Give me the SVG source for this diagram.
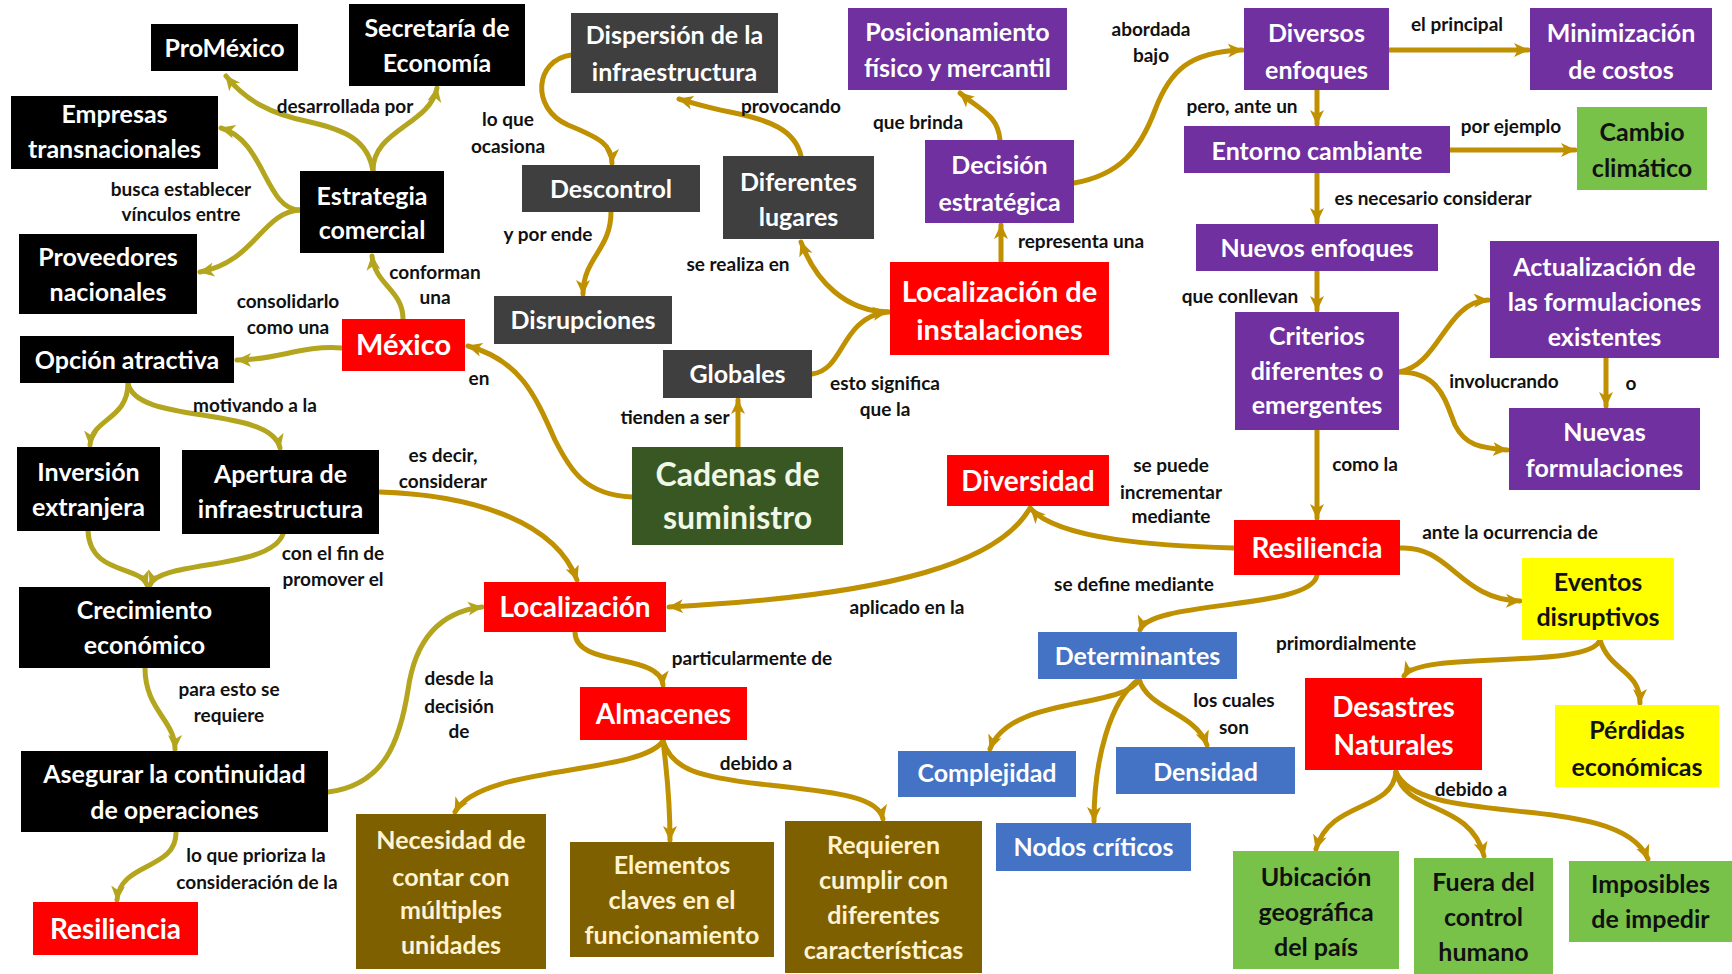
<svg xmlns="http://www.w3.org/2000/svg" width="1732" height="974" viewBox="0 0 1732 974">
<style>
.n text{font-family:Lato,"Open Sans","Liberation Sans",sans-serif;font-weight:700;font-size:25px;text-anchor:middle;fill:#fff}
.n.big text{font-size:28px}
.n.dk text{fill:#111}
.n.ol text{fill:#FFF3D0}
.k{fill:#000}.r{fill:#FF0000}.g{fill:#3F3F3F}.p{fill:#7030A0}.b{fill:#4472C4}.y{fill:#FFFF00}.lg{fill:#79C24A}.o{fill:#7F6000}.dg{fill:#385723}
.lbl{font-family:Lato,"Open Sans","Liberation Sans",sans-serif;font-weight:700;font-size:19px;text-anchor:middle;fill:#111}
.c{fill:none;stroke:#BF9000;stroke-width:5;stroke-linecap:round;marker-end:url(#ah)}
.c.v{stroke:#B3A51E;marker-end:url(#ah2)}
</style>
<defs>
<marker id="ah" viewBox="0 0 16 16" markerUnits="userSpaceOnUse" markerWidth="16" markerHeight="16" refX="14" refY="8" orient="auto"><path d="M0,1 L15,8 L0,15 L4,8 z" fill="#BF9000"/></marker>
<marker id="ah2" viewBox="0 0 16 16" markerUnits="userSpaceOnUse" markerWidth="16" markerHeight="16" refX="14" refY="8" orient="auto"><path d="M0,1 L15,8 L0,15 L4,8 z" fill="#B3A51E"/></marker>
</defs>
<rect width="1732" height="974" fill="#fff"/>

<g id="connectors">
<path class="c v" d="M373,171 C368,140 345,130 310,122 C270,114 245,100 226,76"/>
<path class="c v" d="M373,171 C372,130 430,125 437,88"/>
<path class="c v" d="M300,210 C265,210 265,140 221,128"/>
<path class="c v" d="M300,210 C262,212 255,262 200,272"/>
<path class="c v" d="M403,319 C403,290 375,285 372,256"/>
<path class="c v" d="M342,348 C300,345 280,360 237,360"/>
<path class="c" d="M632,497 C585,495 570,470 555,440 C535,395 520,360 468,346"/>
<path class="c" d="M738,447 L738,400"/>
<path class="c" d="M812,374 C845,370 840,318 887,312"/>
<path class="c" d="M890,312 C845,312 815,280 801,242"/>
<path class="c" d="M801,156 C795,130 770,120 730,112 C705,107 690,102 679,99"/>
<path class="c" d="M571,55 C535,60 530,108 568,125 C600,138 612,145 612,163"/>
<path class="c" d="M611,212 C611,250 583,258 583,294"/>
<path class="c" d="M1001,262 L1001,225"/>
<path class="c" d="M1000,140 C998,115 980,110 960,93"/>
<path class="c" d="M1074,183 C1120,175 1140,150 1155,110 C1170,70 1190,52 1242,50"/>
<path class="c" d="M1389,50 L1528,50"/>
<path class="c" d="M1317,90 L1317,124"/>
<path class="c" d="M1450,150 L1575,150"/>
<path class="c" d="M1317,173 L1317,222"/>
<path class="c" d="M1317,271 L1317,310"/>
<path class="c" d="M1399,372 C1440,365 1445,302 1488,300"/>
<path class="c" d="M1399,372 C1440,372 1445,400 1455,425 C1465,445 1480,448 1507,450"/>
<path class="c" d="M1606,358 L1606,406"/>
<path class="c" d="M1317,430 L1317,518"/>
<path class="c" d="M1234,548 C1160,546 1060,540 1031,509"/>
<path class="c" d="M1030,508 C1000,560 900,595 669,607"/>
<path class="c" d="M380,492 C470,495 555,520 577,580"/>
<path class="c v" d="M328,792 C385,785 400,740 408,690 C415,640 440,612 482,607"/>
<path class="c" d="M575,632 C575,668 660,652 663,685"/>
<path class="c" d="M663,741 C640,775 480,765 455,812"/>
<path class="c" d="M663,741 C668,780 670,810 670,840"/>
<path class="c" d="M663,741 C672,770 700,777 760,784 C830,792 878,795 883,819"/>
<path class="c" d="M1317,575 C1312,610 1150,600 1140,630"/>
<path class="c" d="M1139,679 C1125,710 1010,695 990,749"/>
<path class="c" d="M1139,679 C1148,710 1195,712 1207,745"/>
<path class="c" d="M1139,679 C1110,700 1094,760 1094,821"/>
<path class="c" d="M1400,548 C1450,545 1460,600 1520,601"/>
<path class="c" d="M1600,640 C1590,670 1420,650 1404,676"/>
<path class="c" d="M1600,640 C1610,672 1640,670 1640,703"/>
<path class="c" d="M1396,772 C1392,812 1330,800 1316,849"/>
<path class="c" d="M1396,772 C1405,815 1470,800 1484,856"/>
<path class="c" d="M1396,772 C1420,830 1620,790 1648,859"/>
<path class="c v" d="M128,383 C128,420 92,418 90,445"/>
<path class="c v" d="M128,383 C135,425 270,405 280,448"/>
<path class="c v" d="M88,531 C90,575 140,565 147,585"/>
<path class="c v" d="M283,534 C270,570 160,560 150,585"/>
<path class="c v" d="M145,668 C145,710 175,720 175,749"/>
<path class="c v" d="M176,833 C176,870 120,862 117,900"/>
</g>

<g id="labels">
<text class="lbl" x="345" y="113">desarrollada por</text>
<text class="lbl" x="181" y="196">busca establecer</text>
<text class="lbl" x="181" y="221">vínculos entre</text>
<text class="lbl" x="435" y="279">conforman</text>
<text class="lbl" x="435" y="304">una</text>
<text class="lbl" x="288" y="308">consolidarlo</text>
<text class="lbl" x="288" y="334">como una</text>
<text class="lbl" x="479" y="385">en</text>
<text class="lbl" x="508" y="126">lo que</text>
<text class="lbl" x="508" y="153">ocasiona</text>
<text class="lbl" x="548" y="241">y por ende</text>
<text class="lbl" x="791" y="113">provocando</text>
<text class="lbl" x="918" y="129">que brinda</text>
<text class="lbl" x="738" y="271">se realiza en</text>
<text class="lbl" x="1081" y="248">representa una</text>
<text class="lbl" x="675" y="424">tienden a ser</text>
<text class="lbl" x="885" y="390">esto significa</text>
<text class="lbl" x="885" y="416">que la</text>
<text class="lbl" x="1151" y="36">abordada</text>
<text class="lbl" x="1151" y="62">bajo</text>
<text class="lbl" x="1457" y="31">el principal</text>
<text class="lbl" x="1242" y="113">pero, ante un</text>
<text class="lbl" x="1511" y="133">por ejemplo</text>
<text class="lbl" x="1433" y="205">es necesario considerar</text>
<text class="lbl" x="1240" y="303">que conllevan</text>
<text class="lbl" x="1504" y="388">involucrando</text>
<text class="lbl" x="1631" y="390">o</text>
<text class="lbl" x="1365" y="471">como la</text>
<text class="lbl" x="1171" y="472">se puede</text>
<text class="lbl" x="1171" y="499">incrementar</text>
<text class="lbl" x="1171" y="523">mediante</text>
<text class="lbl" x="1510" y="539">ante la ocurrencia de</text>
<text class="lbl" x="1134" y="591">se define mediante</text>
<text class="lbl" x="907" y="614">aplicado en la</text>
<text class="lbl" x="1346" y="650">primordialmente</text>
<text class="lbl" x="443" y="462">es decir,</text>
<text class="lbl" x="443" y="488">considerar</text>
<text class="lbl" x="255" y="412">motivando a la</text>
<text class="lbl" x="333" y="560">con el fin de</text>
<text class="lbl" x="333" y="586">promover el</text>
<text class="lbl" x="459" y="685">desde la</text>
<text class="lbl" x="459" y="713">decisión</text>
<text class="lbl" x="459" y="738">de</text>
<text class="lbl" x="752" y="665">particularmente de</text>
<text class="lbl" x="229" y="696">para esto se</text>
<text class="lbl" x="229" y="722">requiere</text>
<text class="lbl" x="256" y="862">lo que prioriza la</text>
<text class="lbl" x="257" y="889">consideración de la</text>
<text class="lbl" x="756" y="770">debido a</text>
<text class="lbl" x="1234" y="707">los cuales</text>
<text class="lbl" x="1234" y="734">son</text>
<text class="lbl" x="1471" y="796">debido a</text>
</g>

<g id="n-promexico" class="n"><rect class="k" x="151" y="24" width="147" height="47"/><text x="224.5" y="56.5">ProMéxico</text></g>
<g id="n-secretaria" class="n"><rect class="k" x="349" y="4" width="176" height="82"/><text x="437" y="37">Secretaría de</text><text x="437" y="72">Economía</text></g>
<g id="n-empresas" class="n"><rect class="k" x="11" y="96" width="207" height="73"/><text x="114.5" y="123">Empresas</text><text x="114.5" y="158">transnacionales</text></g>
<g id="n-estrategia" class="n"><rect class="k" x="300" y="171" width="144" height="82"/><text x="372" y="205">Estrategia</text><text x="372" y="239">comercial</text></g>
<g id="n-proveedores" class="n"><rect class="k" x="19" y="234" width="178" height="80"/><text x="108" y="266">Proveedores</text><text x="108" y="301">nacionales</text></g>
<g id="n-opcion" class="n"><rect class="k" x="20" y="336" width="214" height="47"/><text x="127" y="368.5">Opción atractiva</text></g>
<g id="n-inversion" class="n"><rect class="k" x="17" y="447" width="143" height="84"/><text x="88.5" y="481">Inversión</text><text x="88.5" y="516">extranjera</text></g>
<g id="n-apertura" class="n"><rect class="k" x="182" y="450" width="197" height="84"/><text x="280.5" y="483">Apertura de</text><text x="280.5" y="518">infraestructura</text></g>
<g id="n-crecimiento" class="n"><rect class="k" x="19" y="587" width="251" height="81"/><text x="144.5" y="619">Crecimiento</text><text x="144.5" y="654">económico</text></g>
<g id="n-asegurar" class="n"><rect class="k" x="21" y="751" width="307" height="81"/><text x="174.5" y="783">Asegurar la continuidad</text><text x="174.5" y="819">de operaciones</text></g>

<g id="n-mexico" class="n big"><rect class="r" x="342" y="319" width="123" height="52"/><text x="403.5" y="355" style="font-size:29px">México</text></g>
<g id="n-locinst" class="n big"><rect class="r" x="890" y="262" width="219" height="93"/><text x="999.5" y="302" style="font-size:29px">Localización de</text><text x="999.5" y="340" style="font-size:29px">instalaciones</text></g>
<g id="n-localizacion" class="n big"><rect class="r" x="484" y="582" width="182" height="50"/><text x="575" y="617">Localización</text></g>
<g id="n-almacenes" class="n big"><rect class="r" x="580" y="687" width="167" height="53"/><text x="663.5" y="723.5">Almacenes</text></g>
<g id="n-diversidad" class="n big"><rect class="r" x="947" y="455" width="162" height="51"/><text x="1028" y="490.5">Diversidad</text></g>
<g id="n-resiliencia" class="n big"><rect class="r" x="1234" y="520" width="166" height="55"/><text x="1317" y="557.5">Resiliencia</text></g>
<g id="n-desastres" class="n big"><rect class="r" x="1305" y="678" width="177" height="92"/><text x="1393.5" y="717">Desastres</text><text x="1393.5" y="755">Naturales</text></g>
<g id="n-resiliencia2" class="n big"><rect class="r" x="33" y="902" width="165" height="53"/><text x="115.5" y="938.5">Resiliencia</text></g>

<g id="n-dispersion" class="n"><rect class="g" x="571" y="13" width="207" height="80"/><text x="674.5" y="44">Dispersión de la</text><text x="674.5" y="81">infraestructura</text></g>
<g id="n-descontrol" class="n"><rect class="g" x="522" y="165" width="178" height="47"/><text x="611" y="197.5">Descontrol</text></g>
<g id="n-diferentes" class="n"><rect class="g" x="723" y="156" width="151" height="83"/><text x="798.5" y="191">Diferentes</text><text x="798.5" y="226">lugares</text></g>
<g id="n-disrupciones" class="n"><rect class="g" x="494" y="296" width="178" height="48"/><text x="583" y="329">Disrupciones</text></g>
<g id="n-globales" class="n"><rect class="g" x="663" y="350" width="149" height="48"/><text x="737.5" y="383">Globales</text></g>

<g id="n-cadenas" class="n"><rect class="dg" x="632" y="447" width="211" height="98"/><text x="737.5" y="486" style="font-size:32px;fill:#F0F7E6">Cadenas de</text><text x="737.5" y="529" style="font-size:32px;fill:#F0F7E6">suministro</text></g>

<g id="n-posicionamiento" class="n"><rect class="p" x="848" y="8" width="219" height="82"/><text x="957.5" y="41">Posicionamiento</text><text x="957.5" y="77">físico y mercantil</text></g>
<g id="n-decision" class="n"><rect class="p" x="925" y="140" width="149" height="83"/><text x="999.5" y="174">Decisión</text><text x="999.5" y="211">estratégica</text></g>
<g id="n-diversos" class="n"><rect class="p" x="1244" y="8" width="145" height="82"/><text x="1316.5" y="42">Diversos</text><text x="1316.5" y="79">enfoques</text></g>
<g id="n-minimizacion" class="n"><rect class="p" x="1530" y="8" width="182" height="82"/><text x="1621" y="42">Minimización</text><text x="1621" y="79">de costos</text></g>
<g id="n-entorno" class="n"><rect class="p" x="1184" y="126" width="266" height="47"/><text x="1317" y="160">Entorno cambiante</text></g>
<g id="n-nuevosenf" class="n"><rect class="p" x="1196" y="224" width="242" height="47"/><text x="1317" y="257">Nuevos enfoques</text></g>
<g id="n-actualizacion" class="n"><rect class="p" x="1490" y="241" width="229" height="117"/><text x="1604.5" y="276">Actualización de</text><text x="1604.5" y="311">las formulaciones</text><text x="1604.5" y="346">existentes</text></g>
<g id="n-criterios" class="n"><rect class="p" x="1235" y="312" width="164" height="118"/><text x="1317" y="345">Criterios</text><text x="1317" y="380">diferentes o</text><text x="1317" y="414">emergentes</text></g>
<g id="n-nuevasform" class="n"><rect class="p" x="1509" y="408" width="191" height="82"/><text x="1604.5" y="441">Nuevas</text><text x="1604.5" y="477">formulaciones</text></g>

<g id="n-cambio" class="n dk"><rect class="lg" x="1577" y="107" width="130" height="83"/><text x="1642" y="141">Cambio</text><text x="1642" y="177">climático</text></g>

<g id="n-eventos" class="n dk"><rect class="y" x="1522" y="558" width="152" height="82"/><text x="1598" y="591">Eventos</text><text x="1598" y="626">disruptivos</text></g>
<g id="n-perdidas" class="n dk"><rect class="y" x="1555" y="705" width="164" height="82"/><text x="1637" y="739">Pérdidas</text><text x="1637" y="776">económicas</text></g>

<g id="n-determinantes" class="n"><rect class="b" x="1038" y="632" width="199" height="47"/><text x="1137.5" y="665">Determinantes</text></g>
<g id="n-complejidad" class="n"><rect class="b" x="898" y="751" width="178" height="46"/><text x="987" y="782">Complejidad</text></g>
<g id="n-densidad" class="n"><rect class="b" x="1116" y="747" width="179" height="47"/><text x="1205.5" y="781">Densidad</text></g>
<g id="n-nodos" class="n"><rect class="b" x="996" y="823" width="195" height="48"/><text x="1093.5" y="856">Nodos críticos</text></g>

<g id="n-necesidad" class="n ol"><rect class="o" x="356" y="814" width="190" height="155"/><text x="451" y="849">Necesidad de</text><text x="451" y="886">contar con</text><text x="451" y="919">múltiples</text><text x="451" y="954">unidades</text></g>
<g id="n-elementos" class="n ol"><rect class="o" x="570" y="842" width="204" height="115"/><text x="672" y="874">Elementos</text><text x="672" y="909">claves en el</text><text x="672" y="944">funcionamiento</text></g>
<g id="n-requieren" class="n ol"><rect class="o" x="785" y="821" width="197" height="152"/><text x="883.5" y="854">Requieren</text><text x="883.5" y="889">cumplir con</text><text x="883.5" y="924">diferentes</text><text x="883.5" y="959">características</text></g>

<g id="n-ubicacion" class="n dk"><rect class="lg" x="1233" y="851" width="166" height="118"/><text x="1316" y="886">Ubicación</text><text x="1316" y="921">geográfica</text><text x="1316" y="956">del país</text></g>
<g id="n-fuera" class="n dk"><rect class="lg" x="1414" y="858" width="139" height="116"/><text x="1483.5" y="891">Fuera del</text><text x="1483.5" y="926">control</text><text x="1483.5" y="961">humano</text></g>
<g id="n-imposibles" class="n dk"><rect class="lg" x="1569" y="861" width="163" height="81"/><text x="1650.5" y="893">Imposibles</text><text x="1650.5" y="928">de impedir</text></g>
</svg>
